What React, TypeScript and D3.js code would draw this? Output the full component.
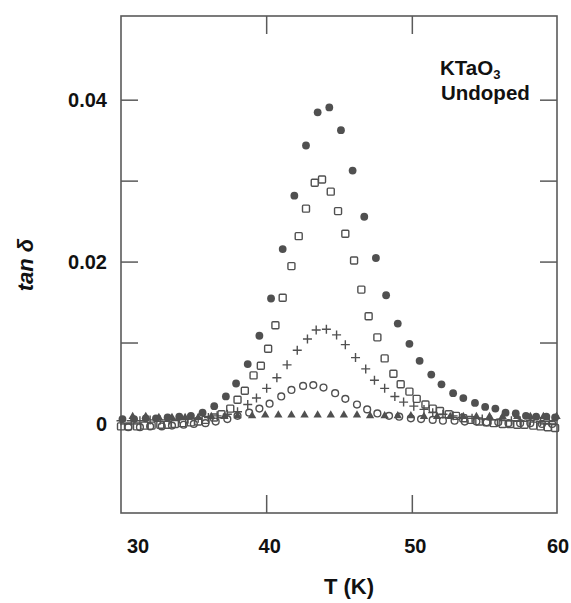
import React from "react";
import * as d3 from "d3";

type Pt = [number, number];

const filledCircles: Pt[] = [
  [30.1, 0.0006], [30.9, 0.0006], [31.7, 0.0007], [32.4, 0.0007], [33.2, 0.0008], [34.0, 0.0009],
  [34.8, 0.0010], [35.6, 0.0014], [36.4, 0.0022], [37.2, 0.0034], [37.9, 0.0050], [38.7, 0.0074],
  [39.5, 0.0109], [40.3, 0.0155], [41.1, 0.0216], [41.9, 0.0282], [42.7, 0.0344], [43.5, 0.0385],
  [44.3, 0.0391], [45.1, 0.0363], [45.9, 0.0313], [46.7, 0.0256], [47.5, 0.0205], [48.2, 0.0159],
  [49.0, 0.0124], [49.8, 0.0099], [50.5, 0.0078], [51.3, 0.0061], [52.0, 0.0049], [52.8, 0.0038],
  [53.5, 0.0032], [54.3, 0.0026], [55.0, 0.0021], [55.7, 0.0019], [56.4, 0.0014], [57.1, 0.0013],
  [57.8, 0.0010], [58.5, 0.0009], [59.2, 0.0009], [59.8, 0.0008],
];

const openSquares: Pt[] = [
  [30.0, -0.0003], [30.5, -0.0003], [31.1, -0.0003], [31.6, -0.0002], [32.1, -0.0002], [32.7, -0.0001],
  [33.2, -0.0001], [33.7, 0.0], [34.2, 0.0001], [34.8, 0.0002], [35.3, 0.0003], [35.8, 0.0005],
  [36.4, 0.0008], [36.9, 0.0012], [37.5, 0.0019], [38.0, 0.0030], [38.5, 0.0041], [39.1, 0.0060],
  [39.6, 0.0072], [40.1, 0.0093], [40.6, 0.0122], [41.1, 0.0156], [41.7, 0.0195], [42.2, 0.0232],
  [42.7, 0.0266], [43.3, 0.0298], [43.8, 0.0302], [44.4, 0.0287], [44.9, 0.0263], [45.4, 0.0235],
  [46.0, 0.0202], [46.5, 0.0166], [47.0, 0.0133], [47.6, 0.0107], [48.1, 0.0081], [48.7, 0.0062],
  [49.2, 0.0049], [49.8, 0.0040], [50.3, 0.0031], [50.9, 0.0024], [51.4, 0.0019], [51.9, 0.0016],
  [52.5, 0.0012], [53.0, 0.0010], [53.5, 0.0007], [54.0, 0.0005], [54.6, 0.0003], [55.1, 0.0002],
  [55.6, 0.0001], [56.2, 0.0], [56.7, 0.0], [57.2, -0.0001], [57.7, -0.0001], [58.3, -0.0002],
  [58.8, -0.0003], [59.3, -0.0004], [59.8, -0.0005],
];

const plusSigns: Pt[] = [
  [30.0, 0.0004], [30.7, 0.0004], [31.3, 0.0004], [32.0, 0.0005], [32.7, 0.0005], [33.3, 0.0005],
  [34.0, 0.0006], [34.6, 0.0006], [35.3, 0.0007], [36.0, 0.0008], [36.6, 0.0010], [37.3, 0.0012],
  [38.0, 0.0015], [38.7, 0.0024], [39.3, 0.0032], [40.0, 0.0044], [40.7, 0.0057], [41.4, 0.0073],
  [42.1, 0.0091], [42.8, 0.0105], [43.4, 0.0116], [44.1, 0.0117], [44.8, 0.0110], [45.4, 0.0098],
  [46.1, 0.0082], [46.8, 0.0068], [47.4, 0.0054], [48.1, 0.0044], [48.8, 0.0034], [49.4, 0.0027],
  [50.1, 0.0022], [50.8, 0.0018], [51.4, 0.0014], [52.1, 0.0012], [52.8, 0.0010], [53.4, 0.0008],
  [54.1, 0.0007], [54.8, 0.0006], [55.4, 0.0005], [56.1, 0.0005], [56.8, 0.0004], [57.4, 0.0004],
  [58.1, 0.0004], [58.8, 0.0003], [59.4, 0.0003],
];

const openCircles: Pt[] = [
  [30.5, -0.0004], [31.3, -0.0004], [32.0, -0.0003], [32.8, -0.0003], [33.5, -0.0002], [34.3, -0.0001],
  [35.0, 0.0], [35.8, 0.0001], [36.5, 0.0003], [37.3, 0.0006], [38.0, 0.0010], [38.8, 0.0014],
  [39.5, 0.0019], [40.2, 0.0025], [41.0, 0.0034], [41.7, 0.0042], [42.5, 0.0047], [43.2, 0.0048],
  [43.9, 0.0045], [44.7, 0.0038], [45.4, 0.0031], [46.2, 0.0024], [46.9, 0.0018], [47.6, 0.0013],
  [48.4, 0.0010], [49.1, 0.0009], [49.9, 0.0007], [50.6, 0.0006], [51.4, 0.0005], [52.1, 0.0004],
  [52.9, 0.0004], [53.6, 0.0003], [54.4, 0.0003], [55.1, 0.0002], [55.9, 0.0002], [56.6, 0.0001],
  [57.4, 0.0001], [58.1, 0.0001], [58.9, 0.0], [59.6, 0.0],
];

const triangles: Pt[] = [
  [30.8, 0.0009], [31.7, 0.0009], [32.6, 0.0008], [33.5, 0.0008], [34.4, 0.0008], [35.3, 0.0008],
  [36.2, 0.0009], [37.1, 0.0009], [38.0, 0.0010], [39.0, 0.0010], [39.9, 0.0011], [40.8, 0.0011],
  [41.7, 0.0011], [42.6, 0.0011], [43.5, 0.0011], [44.4, 0.0011], [45.3, 0.0011], [46.2, 0.0011],
  [47.1, 0.0010], [48.1, 0.0010], [49.0, 0.0010], [49.9, 0.0010], [50.8, 0.0009], [51.7, 0.0009],
  [52.6, 0.0009], [53.5, 0.0009], [54.4, 0.0009], [55.3, 0.0009], [56.2, 0.0009], [57.2, 0.0009],
  [58.1, 0.0009], [59.0, 0.0009], [59.9, 0.0009],
];

const xTickLabels = [30, 40, 50, 60];
const xInnerTicks = [40, 50];
const yTickLabels = [0, 0.02, 0.04];
const yTickValues = [0, 0.01, 0.02, 0.03, 0.04];

const W = 571;
const H = 603;
const FONT = "'Liberation Sans', Arial, Helvetica, sans-serif";
const INK = "#505050";
const FRAME = "#5a5a5a";

export default function App() {
  const x = d3.scaleLinear().domain([30, 60]).range([121, 558]);
  const y = d3.scaleLinear().domain([-0.011, 0.0504]).range([513, 16]);
  const left = 121, right = 557, top = 16, bottom = 513;
  const tickLen = 17;

  const triPath = d3.symbol().type(d3.symbolTriangle).size(30)();

  return (
    <svg
      width={W}
      height={H}
      viewBox={`0 0 ${W} ${H}`}
      style={{ position: "absolute", left: 0, top: 0, background: "#fff" }}
    >
      <rect x={0} y={0} width={W} height={H} fill="#fff" />
      {/* frame */}
      <rect x={left} y={top} width={right - left} height={bottom - top} fill="none" stroke={FRAME} strokeWidth={1.6} />
      {/* y ticks left & right */}
      {yTickValues.map((v) => (
        <g key={"yt" + v}>
          <line x1={left} x2={left + tickLen} y1={y(v)} y2={y(v)} stroke={FRAME} strokeWidth={1.5} />
          <line x1={right - tickLen} x2={right} y1={y(v)} y2={y(v)} stroke={FRAME} strokeWidth={1.5} />
        </g>
      ))}
      {/* x ticks top & bottom */}
      {xInnerTicks.map((v) => (
        <g key={"xt" + v}>
          <line x1={x(v)} x2={x(v)} y1={top} y2={top + 18} stroke={FRAME} strokeWidth={1.5} />
          <line x1={x(v)} x2={x(v)} y1={bottom - 18} y2={bottom} stroke={FRAME} strokeWidth={1.5} />
        </g>
      ))}
      {/* y tick labels */}
      {yTickLabels.map((v) => (
        <text
          key={"yl" + v}
          x={107}
          y={y(v)}
          dy="0.36em"
          textAnchor="end"
          fontFamily={FONT}
          fontWeight="bold"
          fontSize={20}
          fill="#111"
        >
          {v === 0 ? "0" : d3.format(".2f")(v)}
        </text>
      ))}
      {/* x tick labels */}
      {xTickLabels.map((v, i) => (
        <text
          key={"xl" + v}
          x={i === 0 ? x(v) + 17 : x(v) + (i === xTickLabels.length - 1 ? 0 : 3)}
          y={553}
          textAnchor="middle"
          fontFamily={FONT}
          fontWeight="bold"
          fontSize={20}
          fill="#111"
        >
          {v}
        </text>
      ))}
      {/* axis titles */}
      <text x={349} y={594} textAnchor="middle" fontFamily={FONT} fontWeight="bold" fontSize={22} fill="#111">
        T (K)
      </text>
      <text
        transform="translate(33,265) rotate(-90)"
        textAnchor="middle"
        fontFamily={FONT}
        fontWeight="bold"
        fontStyle="italic"
        fontSize={22}
        fill="#111"
      >
        tan δ
      </text>
      {/* annotation */}
      <text x={440} y={75} fontFamily={FONT} fontWeight="bold" fontSize={20.5} fill="#111">
        KTaO<tspan fontSize={13} dy={4}>3</tspan>
      </text>
      <text x={441} y={100} fontFamily={FONT} fontWeight="bold" fontSize={20.5} fill="#111">
        Undoped
      </text>

      {/* triangles */}
      {triangles.map(([t, v], i) => (
        <path key={"tr" + i} d={triPath || ""} transform={`translate(${x(t)},${y(v)})`} fill={INK} />
      ))}
      {/* open circles */}
      {openCircles.map(([t, v], i) => (
        <circle key={"oc" + i} cx={x(t)} cy={y(v)} r={3.4} fill="none" stroke={INK} strokeWidth={1.4} />
      ))}
      {/* plus signs */}
      {plusSigns.map(([t, v], i) => (
        <path
          key={"pl" + i}
          d={`M${x(t) - 4.5},${y(v)}H${x(t) + 4.5}M${x(t)},${y(v) - 4.5}V${y(v) + 4.5}`}
          stroke={INK}
          strokeWidth={1.4}
          fill="none"
        />
      ))}
      {/* open squares */}
      {openSquares.map(([t, v], i) => (
        <rect
          key={"sq" + i}
          x={x(t) - 3.5}
          y={y(v) - 3.5}
          width={7}
          height={7}
          rx={1}
          fill="none"
          stroke={INK}
          strokeWidth={1.4}
        />
      ))}
      {/* filled circles */}
      {filledCircles.map(([t, v], i) => (
        <circle key={"fc" + i} cx={x(t)} cy={y(v)} r={3.9} fill={INK} />
      ))}
    </svg>
  );
}
